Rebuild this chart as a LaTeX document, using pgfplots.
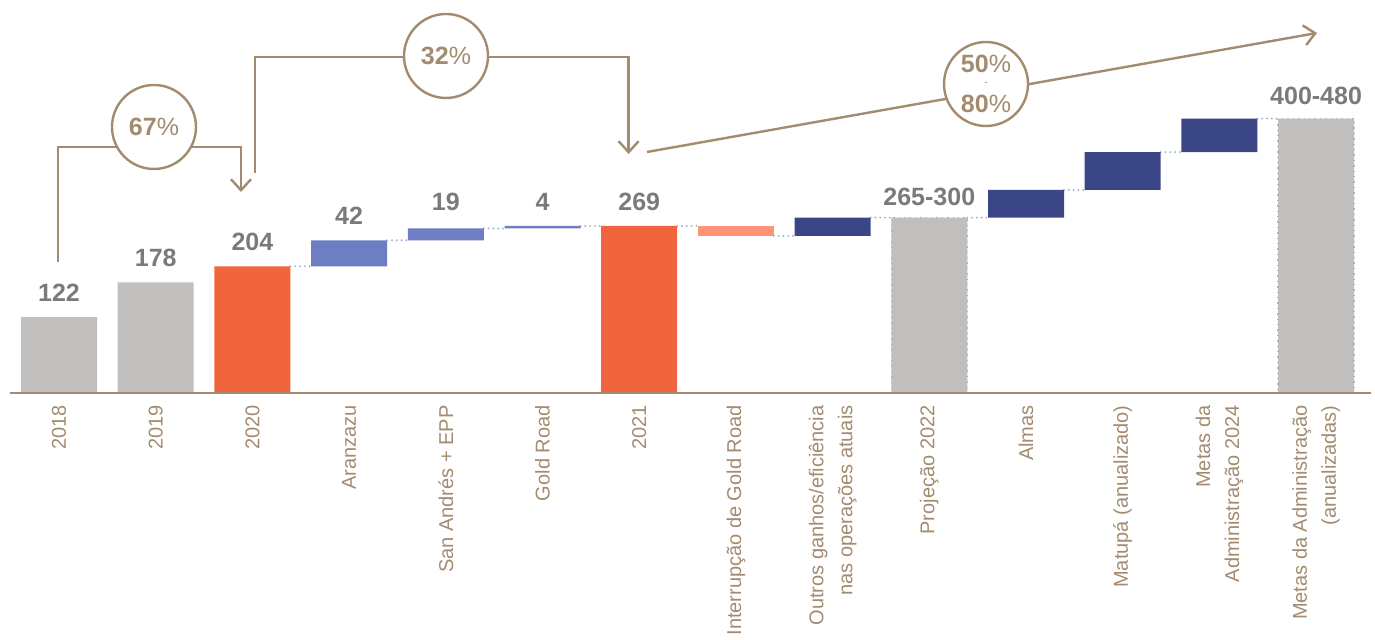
\documentclass[border=0pt]{standalone}
\usepackage{fontspec}
\setmainfont{Liberation Sans}
\usepackage{pgfplots}
\pgfplotsset{compat=1.18}
\usetikzlibrary{arrows.meta}

\definecolor{barGrey}{HTML}{C0BFBD}
\definecolor{barOrange}{HTML}{F0653E}
\definecolor{barLight}{HTML}{6E7EC2}
\definecolor{barPink}{HTML}{FF9375}
\definecolor{barNavy}{HTML}{3B4686}
\definecolor{brownLine}{HTML}{A38B6F}
\definecolor{valGrey}{HTML}{7A7A7A}
\definecolor{dotBlue}{HTML}{A9B2C8}

\begin{document}
\begin{tikzpicture}[
    val/.style={anchor=south, yshift=7.5pt, inner sep=0pt, text=valGrey,
        font=\fontsize{12.5}{14}\selectfont\bfseries}]
\begin{axis}[
    at={(5pt,123.5pt)}, anchor=south west,
    scale only axis, width=680.5pt, height=196.5pt,
    xmin=-0.507, xmax=13.568, ymin=0, ymax=633,
    ybar stacked, bar width=38pt,
    axis x line*=bottom, axis y line=none,
    x axis line style={brownLine, line width=1.35pt},
    ytick=\empty,
    xtick={0,...,13}, major tick length=0pt,
    xticklabels={2018,2019,2020,Aranzazu,San Andrés + EPP,Gold Road,2021,Interrupção de Gold Road,{Outros ganhos/eficiência\\nas operações atuais},Projeção 2022,Almas,Matupá (anualizado),{Metas da\\Administração 2024},{Metas da Administração\\(anualizadas)}},
    xticklabel style={rotate=90, anchor=east, align=right, text=brownLine,
        font=\fontsize{10}{14.5}\selectfont, inner sep=0pt},
    xticklabel shift=6pt,
    axis on top,
    clip=false,
]

% totals with dotted border (first, so empty slots sit on the baseline)
\addplot[fill=barGrey, draw=dotBlue, dotted, line width=0.7pt] coordinates {(0,0) (1,0) (2,0) (3,0) (4,0) (5,0) (6,0) (7,0) (8,0) (9,282.5) (10,0) (11,0) (12,0) (13,442)};
% past years
\addplot[fill=barGrey, draw=none] coordinates {(0,122) (1,178) (2,0) (3,0) (4,0) (5,0) (6,0) (7,0) (8,0) (9,0) (10,0) (11,0) (12,0) (13,0)};
\addplot[fill=barOrange, draw=none] coordinates {(0,0) (1,0) (2,204) (3,0) (4,0) (5,0) (6,269) (7,0) (8,0) (9,0) (10,0) (11,0) (12,0) (13,0)};
% invisible base of floating bars
\addplot[fill=none, draw=none] coordinates {(0,0) (1,0) (2,0) (3,204) (4,246) (5,265) (6,0) (7,253) (8,253) (9,0) (10,282.5) (11,327) (12,388) (13,0)};
\addplot[fill=barLight, draw=none] coordinates {(0,0) (1,0) (2,0) (3,42) (4,19) (5,4) (6,0) (7,0) (8,0) (9,0) (10,0) (11,0) (12,0) (13,0)};
\addplot[fill=barPink, draw=none] coordinates {(0,0) (1,0) (2,0) (3,0) (4,0) (5,0) (6,0) (7,16) (8,0) (9,0) (10,0) (11,0) (12,0) (13,0)};
\addplot[fill=barNavy, draw=none] coordinates {(0,0) (1,0) (2,0) (3,0) (4,0) (5,0) (6,0) (7,0) (8,29.5) (9,0) (10,44.5) (11,61) (12,54) (13,0)};

% dotted connectors
\addplot[stack plots=false, sharp plot, mark=none, draw=dotBlue, fill=none, line width=1.1pt,
    dash pattern=on 0pt off 2.4pt, line cap=round, unbounded coords=jump]
coordinates {(2.393,204) (2.607,204) (2.5,nan)
             (3.393,246) (3.607,246) (3.5,nan)
             (4.393,265) (4.607,265) (4.5,nan)
             (5.393,269) (5.607,269) (5.5,nan)
             (6.393,269) (6.607,269) (6.5,nan)
             (7.393,253) (7.607,253) (7.5,nan)
             (8.393,282.5) (8.607,282.5) (8.5,nan)
             (9.393,282.5) (9.607,282.5) (9.5,nan)
             (10.393,327) (10.607,327) (10.5,nan)
             (11.393,388) (11.607,388) (11.5,nan)
             (12.393,442) (12.607,442)};

% value labels
\node[val] at (axis cs:0,122) {122};
\node[val] at (axis cs:1,178) {178};
\node[val] at (axis cs:2,204) {204};
\node[val] at (axis cs:3,246) {42};
\node[val] at (axis cs:4,269) {19};
\node[val] at (axis cs:5,269) {4};
\node[val] at (axis cs:6,269) {269};
\node[val, yshift=-2pt] at (axis cs:9,282.5) {265-300};
\node[val, yshift=-1pt] at (axis cs:13,442) {400-480};
\end{axis}

\pgfresetboundingbox
\path[use as bounding box] (0,0) rectangle (687.5pt,320pt);

\begin{scope}[x=0.5pt, y=-0.5pt, yshift=320pt, draw=brownLine, line width=1.2pt,
    ring/.style={circle, draw=brownLine, fill=white, minimum size=42pt, inner sep=0pt},
    pct/.style={text=brownLine, font=\fontsize{12.5}{14}\selectfont, inner sep=0pt}]
  \draw[-{Straight Barb[length=5.5pt, width=10pt]}] (58,262) -- (58,147) -- (241,147) -- (241,192);
  \node[ring] at (154,127) {};
  \node[pct] at (154,127) {\textbf{67}\%};
  \draw[-{Straight Barb[length=5.5pt, width=10pt]}] (255,173) -- (255,57) -- (628.6,57) -- (628.6,154);
  \node[ring] at (446,56) {};
  \node[pct] at (446,56) {\textbf{32}\%};
  \draw[-{Straight Barb[length=5.5pt, width=10pt]}] (647,152) -- (1317,33);
  \node[ring] at (986,84) {};
  \node[pct] at (986,64) {\textbf{50}\%};
  \node[pct, font=\fontsize{5}{5}\selectfont] at (986,84) {-};
  \node[pct] at (986,104) {\textbf{80}\%};
\end{scope}
\end{tikzpicture}
\end{document}
